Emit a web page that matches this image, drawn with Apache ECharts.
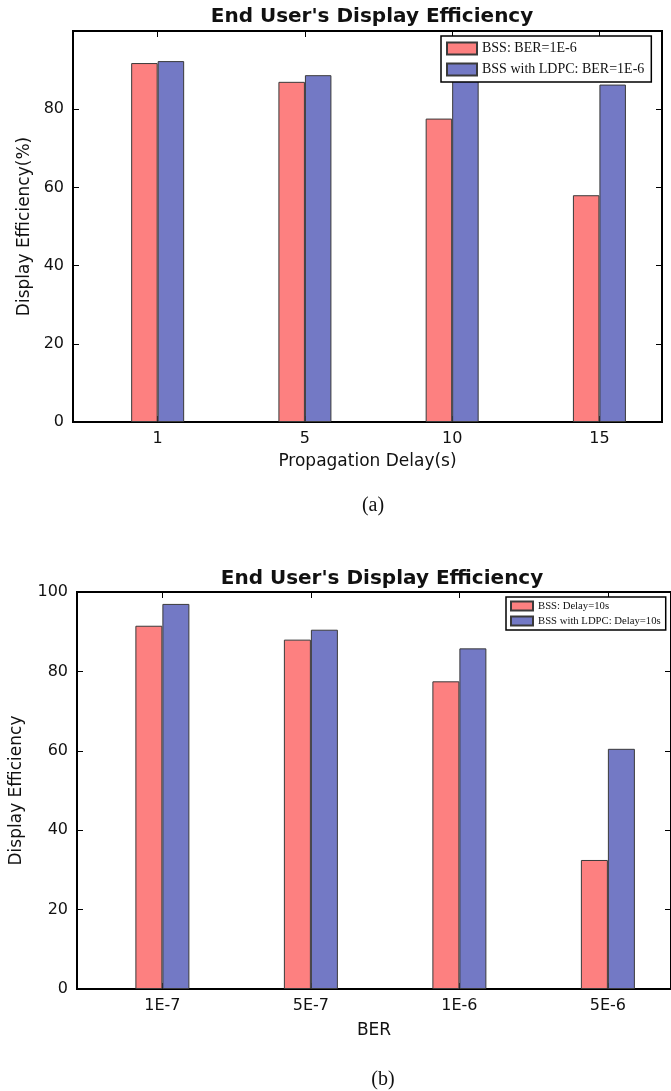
<!DOCTYPE html>
<html>
<head>
<meta charset="utf-8">
<script src="https://cdn.jsdelivr.net/npm/echarts@6/dist/echarts.min.js"></script>
<style>
html,body{margin:0;padding:0;background:#fff;}
#chart{width:671px;height:1091px;}
</style>
</head>
<body>
<div id="chart"></div>
<script>
// ---- Data ----
var titleText = "End User's Display Efficiency";
var delayCategories = ['1', '5', '10', '15'];
var bssDelay = [91.8, 87.0, 77.6, 58.0];
var ldpcDelay = [92.3, 88.7, 89.0, 86.3];
var delaySeriesNames = ['BSS: BER=1E-6', 'BSS with LDPC: BER=1E-6'];

var berCategories = ['1E-7', '5E-7', '1E-6', '5E-6'];
var bssBer = [91.5, 88.0, 77.5, 32.5];
var ldpcBer = [97.0, 90.5, 85.8, 60.5];
var berSeriesNames = ['BSS: Delay=10s', 'BSS with LDPC: Delay=10s'];

var yTicks = [0, 20, 40, 60, 80, 100];

// ---- Build ----
var RED = '#fd8080', BLUE = '#7379c5', EDGE = '#3a3a3a';
var sans = 'DejaVu Sans', serif = 'Liberation Serif';
var tickPos = delayCategories.map(function (_, i) { return i; });

function pairs(vals) { return vals.map(function (v, i) { return [i, v]; }); }

function xAxisPair(gridIndex, cats, name, nameGap) {
  var base = {
    gridIndex: gridIndex, type: 'value', min: -0.575, max: 3.425,
    splitLine: { show: false },
    axisLine: { show: true, onZero: false, lineStyle: { color: '#000', width: 2 } }
  };
  var bottom = Object.assign({}, base, {
    position: 'bottom',
    name: name, nameLocation: 'middle', nameGap: nameGap,
    nameTextStyle: { fontFamily: sans, fontSize: 17, color: '#111' },
    axisTick: { show: true, inside: true, length: 6, customValues: tickPos, lineStyle: { color: '#000', width: 1 } },
    axisLabel: {
      show: true, customValues: tickPos, margin: 9,
      fontFamily: sans, fontSize: 16, color: '#111',
      formatter: function (v) { return cats[Math.round(v)]; }
    }
  });
  var top = Object.assign({}, base, {
    position: 'top',
    axisTick: { show: true, inside: true, length: 6, customValues: tickPos, lineStyle: { color: '#000', width: 1 } },
    axisLabel: { show: false }
  });
  return [bottom, top];
}

function yAxisPair(gridIndex, name, nameGap, showMax) {
  var base = {
    gridIndex: gridIndex, type: 'value', min: yTicks[0], max: yTicks[yTicks.length - 1], interval: 20,
    splitLine: { show: false },
    axisLine: { show: true, onZero: false, lineStyle: { color: '#000', width: 2 } }
  };
  var left = Object.assign({}, base, {
    position: 'left',
    name: name, nameLocation: 'middle', nameGap: nameGap,
    nameTextStyle: { fontFamily: sans, fontSize: 17, color: '#111' },
    axisTick: { show: true, inside: true, length: 6, lineStyle: { color: '#000', width: 1 } },
    axisLabel: {
      show: true, margin: 9, fontFamily: sans, fontSize: 16, color: '#111',
      showMaxLabel: showMax, showMinLabel: true
    }
  });
  var right = Object.assign({}, base, {
    position: 'right',
    axisTick: { show: true, inside: true, length: 6, lineStyle: { color: '#000', width: 1 } },
    axisLabel: { show: false }
  });
  return [left, right];
}

function barSeries(name, vals, color, axisIdx, bw) {
  return {
    name: name, type: 'bar', xAxisIndex: axisIdx, yAxisIndex: axisIdx,
    data: pairs(vals), barWidth: bw, barGap: '0%',
    itemStyle: { color: color, borderColor: EDGE, borderWidth: 1 },
    emphasis: { disabled: true }
  };
}

var xa = xAxisPair(0, delayCategories, 'Propagation Delay(s)', 31).concat(xAxisPair(1, berCategories, 'BER', 33));
var ya = yAxisPair(0, 'Display Efficiency(%)', 40, false).concat(yAxisPair(1, 'Display Efficiency', 52, true));

var option = {
  animation: false,
  backgroundColor: '#fff',
  title: [
    { text: titleText, left: 367, top: 2, textAlign: 'center',
      textStyle: { fontFamily: sans, fontSize: 20, fontWeight: 'bold', color: '#111' } },
    { text: titleText, left: 377, top: 564, textAlign: 'center',
      textStyle: { fontFamily: sans, fontSize: 20, fontWeight: 'bold', color: '#111' } },
    { text: '(a)', left: 368, top: 491, textAlign: 'center',
      textStyle: { fontFamily: serif, fontSize: 20, fontWeight: 'normal', color: '#111' } },
    { text: '(b)', left: 378, top: 1065, textAlign: 'center',
      textStyle: { fontFamily: serif, fontSize: 20, fontWeight: 'normal', color: '#111' } }
  ],
  legend: [
    { data: delaySeriesNames, orient: 'vertical', left: 441, top: 36,
      itemWidth: 30, itemHeight: 12, itemGap: 6, padding: [5, 7, 5, 5],
      icon: 'rect', backgroundColor: '#fff', borderColor: '#000', borderWidth: 1.5, borderRadius: 0,
      textStyle: { fontFamily: serif, fontSize: 14, color: '#111', lineHeight: 15 },
      selectedMode: false },
    { data: berSeriesNames, orient: 'vertical', left: 506, top: 597,
      itemWidth: 22, itemHeight: 9, itemGap: 3, padding: [3, 5, 3, 4],
      icon: 'rect', backgroundColor: '#fff', borderColor: '#000', borderWidth: 1.5, borderRadius: 0,
      textStyle: { fontFamily: serif, fontSize: 10.7, color: '#111', lineHeight: 12 },
      selectedMode: false }
  ],
  grid: [
    { left: 73, top: 31, width: 589, height: 391, show: true, borderColor: '#000', borderWidth: 2, backgroundColor: '#fff' },
    { left: 74, top: 592, width: 599, height: 397, show: true, borderColor: '#000', borderWidth: 2, backgroundColor: '#fff' }
  ],
  xAxis: xa,
  yAxis: ya,
  series: [
    barSeries(delaySeriesNames[0], bssDelay, RED, 0, 26.5),
    barSeries(delaySeriesNames[1], ldpcDelay, BLUE, 0, 26.5),
    barSeries(berSeriesNames[0], bssBer, RED, 2, 27),
    barSeries(berSeriesNames[1], ldpcBer, BLUE, 2, 27)
  ]
};

var chart = echarts.init(document.getElementById('chart'), null, { renderer: 'canvas' });
chart.setOption(option);
</script>
</body>
</html>
